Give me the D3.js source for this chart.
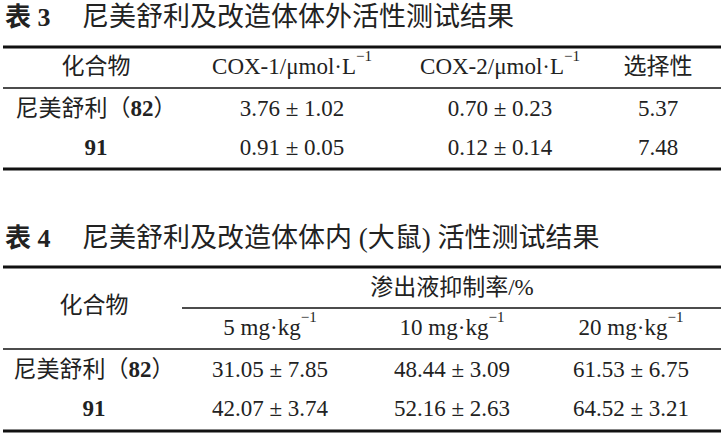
<!DOCTYPE html><html><head><meta charset="utf-8">
<script src="https://cdn.jsdelivr.net/npm/d3@7"></script>
<style>body{margin:0;background:#fff}text{font-family:"Liberation Serif","Noto Sans CJK SC",serif;fill:#222}</style>
</head><body><svg id="c" width="721" height="434"></svg>
<script>
const t3Title=["表 3","尼美舒利及改造体体外活性测试结果"];
const t3Cols=["化合物","COX-1/μmol·L","COX-2/μmol·L","选择性"];
const t3Names=["尼美舒利","91"];
const t3Cox1=["3.76 ± 1.02","0.91 ± 0.05"];
const t3Cox2=["0.70 ± 0.23","0.12 ± 0.14"];
const t3Sel=["5.37","7.48"];
const t4Title=["表 4","尼美舒利及改造体体内 (大鼠) 活性测试结果"];
const t4Group="渗出液抑制率/%";
const t4Doses=["5 mg·kg","10 mg·kg","20 mg·kg"];
const t4D5=["31.05 ± 7.85","42.07 ± 3.74"];
const t4D10=["48.44 ± 3.09","52.16 ± 2.63"];
const t4D20=["61.53 ± 6.75","64.52 ± 3.21"];

const svg=d3.select("#c");
const fs=23;
function rule(y,x1,x2,w){svg.append("line").attr("x1",x1).attr("x2",x2).attr("y1",y).attr("y2",y).attr("stroke","#111").attr("stroke-width",w);}
function txt(x,y,s,opt={}){const t=svg.append("text").attr("x",x).attr("y",y).attr("text-anchor",opt.anchor||"middle").attr("dominant-baseline","central").attr("font-size",opt.size||fs);if(opt.bold)t.attr("font-weight","bold");return t.text(s);}
function sup(x,y,s){const t=txt(x,y,s);t.append("tspan").attr("dy",-10).attr("font-size",15).text("−1");}
function nameCell(x,y,n){
  if(n==="91"){txt(x,y,"91",{bold:true});return;}
  const t=txt(x,y,"");t.append("tspan").text(n+"（");t.append("tspan").attr("font-weight","bold").text("82");t.append("tspan").text("）");
}
// Table 3
txt(5,17,t3Title[0],{anchor:"start",bold:true,size:26});
txt(82,17,t3Title[1],{anchor:"start",size:27});
const x3=d3.scaleOrdinal().domain(t3Cols).range([96,292,500,658]);
rule(47,3,721,3);rule(88,3,721,1.3);rule(169,3,721,3);
txt(x3(t3Cols[0]),66,t3Cols[0]);
sup(x3(t3Cols[1]),66,t3Cols[1]);
sup(x3(t3Cols[2]),66,t3Cols[2]);
txt(x3(t3Cols[3]),66,t3Cols[3]);
t3Names.forEach((n,i)=>{const y=[108,147][i];
  nameCell(x3(t3Cols[0]),y,n);
  txt(x3(t3Cols[1]),y,t3Cox1[i]);txt(x3(t3Cols[2]),y,t3Cox2[i]);txt(x3(t3Cols[3]),y,t3Sel[i]);});
// Table 4
txt(5,238,t4Title[0],{anchor:"start",bold:true,size:26});
txt(82,238,t4Title[1],{anchor:"start",size:27});
const x4=d3.scaleOrdinal().domain(["name",...t4Doses]).range([94,270,452,631]);
rule(267,3,721,3);rule(308,182,721,1.3);rule(349,3,721,1.3);rule(431,3,721,3);
txt(94,305,"化合物");
txt(452,287,t4Group);
t4Doses.forEach(d=>sup(x4(d),327,d));
t3Names.forEach((n,i)=>{const y=[369,408][i];
  nameCell(94,y,n);
  txt(x4(t4Doses[0]),y,t4D5[i]);txt(x4(t4Doses[1]),y,t4D10[i]);txt(x4(t4Doses[2]),y,t4D20[i]);});
</script></body></html>
